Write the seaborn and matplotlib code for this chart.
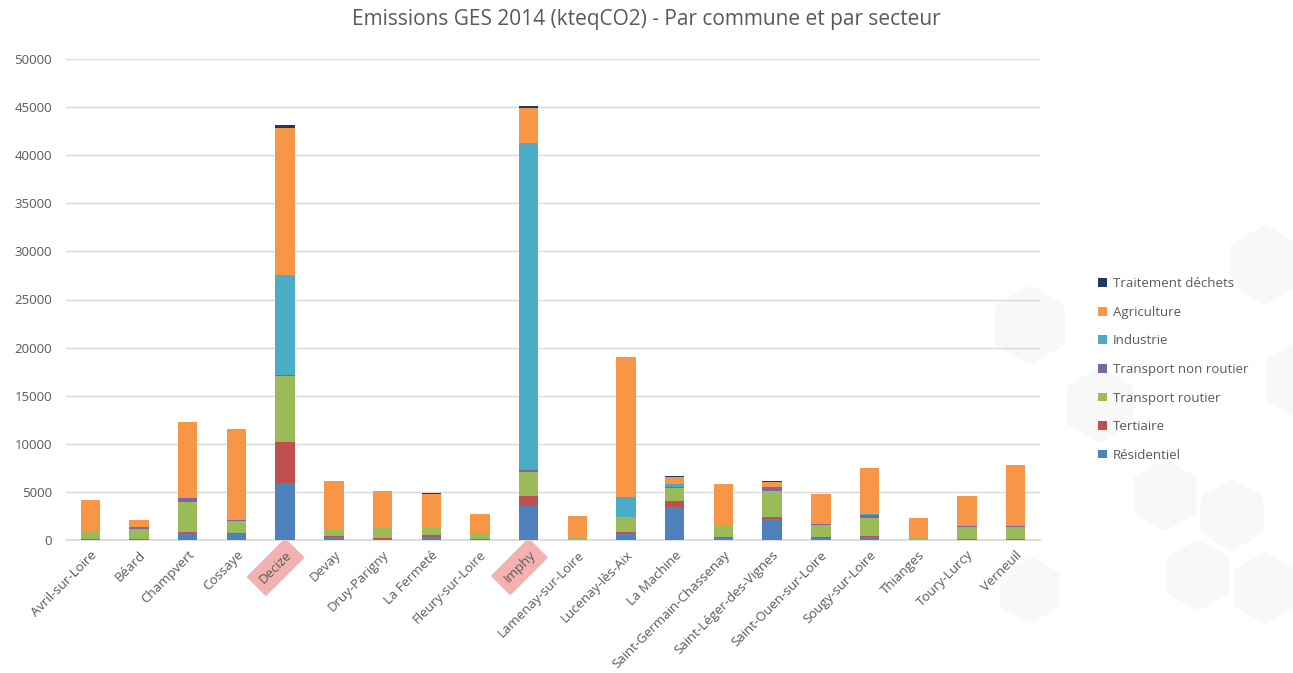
import numpy as np
import pandas as pd
import matplotlib
matplotlib.use("Agg")
import matplotlib.pyplot as plt
from matplotlib.patches import RegularPolygon
import seaborn as sns

communes = [
    "Avril-sur-Loire", "Béard", "Champvert", "Cossaye", "Decize", "Devay",
    "Druy-Parigny", "La Fermeté", "Fleury-sur-Loire", "Imphy",
    "Lamenay-sur-Loire", "Lucenay-lès-Aix", "La Machine",
    "Saint-Germain-Chassenay", "Saint-Léger-des-Vignes",
    "Saint-Ouen-sur-Loire", "Sougy-sur-Loire", "Thianges", "Toury-Lurcy",
    "Verneuil",
]

# Emissions per sector (kteqCO2), one value per commune
residentiel = [100, 80, 750, 650, 5900, 350, 150, 350, 80, 3570, 30, 750, 3470, 250, 2150, 250, 350, 50, 100, 120]
tertiaire = [30, 20, 50, 50, 4300, 30, 50, 150, 30, 1050, 0, 100, 600, 30, 280, 30, 20, 0, 0, 30]
transport_routier = [800, 1000, 3200, 1300, 6800, 650, 1100, 800, 600, 2500, 150, 1500, 1350, 1150, 2700, 1250, 1900, 200, 1300, 1200]
transport_non_routier = [30, 200, 400, 50, 150, 30, 100, 80, 50, 200, 0, 50, 50, 30, 350, 150, 280, 0, 50, 150]
industrie = [0, 0, 0, 0, 10400, 0, 0, 0, 0, 34000, 0, 2050, 400, 0, 0, 0, 150, 0, 0, 0]
agriculture = [3200, 780, 7900, 9450, 15300, 5100, 3700, 3400, 1950, 3600, 2320, 14550, 650, 4350, 550, 3050, 4800, 2050, 3100, 6250]
traitement_dechets = [0, 0, 0, 0, 300, 0, 0, 150, 0, 150, 0, 0, 150, 0, 100, 0, 0, 0, 0, 0]

secteurs = ["Résidentiel", "Tertiaire", "Transport routier", "Transport non routier",
            "Industrie", "Agriculture", "Traitement déchets"]
couleurs = ["#4f81bd", "#c0504d", "#9bbb59", "#8064a2", "#4bacc6", "#f79646", "#1f3864"]
highlighted = ["Decize", "Imphy"]

df = pd.DataFrame({
    "commune": communes,
    "Résidentiel": residentiel,
    "Tertiaire": tertiaire,
    "Transport routier": transport_routier,
    "Transport non routier": transport_non_routier,
    "Industrie": industrie,
    "Agriculture": agriculture,
    "Traitement déchets": traitement_dechets,
})
cumul = df[secteurs].cumsum(axis=1)

sns.set_theme(style="white")
plt.rcParams["font.family"] = ["Open Sans", "DejaVu Sans"]

W, H = 1293, 673
fig = plt.figure(figsize=(W / 100, H / 100), dpi=100)
fig.patch.set_facecolor("white")

# faint hexagon pattern in the background (pixel positions, converted to inches)
hexes = [(1265, 265, 40), (1030, 325, 40), (1100, 405, 38), (1165, 495, 36),
         (1232, 515, 36), (1198, 575, 36), (1265, 588, 36), (1030, 590, 34),
         (1300, 380, 40)]
for hx, hy, hr in hexes:
    fig.patches.append(RegularPolygon((hx / 100, (H - hy) / 100), numVertices=6,
                                      radius=hr / 100, orientation=0,
                                      transform=fig.dpi_scale_trans,
                                      facecolor="#f8f8f8", edgecolor="none",
                                      zorder=-5))

ax = fig.add_axes([66 / W, 1 - 540 / H, (1040 - 66) / W, (540 - 59) / H])
ax.patch.set_alpha(0)

# stacked bars: draw cumulative totals from the top layer down
for secteur, couleur in reversed(list(zip(secteurs, couleurs))):
    sns.barplot(x=df["commune"], y=cumul[secteur], order=communes, color=couleur,
                width=0.4, label=secteur, ax=ax, saturation=1, linewidth=0,
                zorder=3)

ax.set_ylim(0, 50000)
ax.set_xlim(-0.5, len(communes) - 0.5)
ax.set_yticks(np.arange(0, 50001, 5000))
ax.yaxis.grid(True, color="#d9d9d9", linewidth=1, zorder=0)
ax.set_axisbelow(True)
for s in ["top", "right", "left"]:
    ax.spines[s].set_visible(False)
ax.spines["bottom"].set_color("#d9d9d9")
ax.set_xlabel("")
ax.set_ylabel("")
ax.tick_params(axis="y", length=0, labelsize=9.5, labelcolor="#595959", pad=10)
ax.tick_params(axis="x", length=0, labelsize=9.5, labelcolor="#595959", pad=6)

ax.set_xticks(range(len(communes)))
ax.set_xticklabels(communes, rotation=45, ha="right", rotation_mode="anchor")
for lbl in ax.get_xticklabels():
    if lbl.get_text() in highlighted:
        lbl.set_bbox(dict(boxstyle="square,pad=0.55", facecolor="#f2a5a5",
                          edgecolor="none", alpha=0.85))

fig.text(0.5, 1 - 20 / H, "Emissions GES 2014 (kteqCO2) - Par commune et par secteur",
         ha="center", va="center", fontsize=15, color="#595959")

leg = ax.legend(loc="upper left", bbox_to_anchor=(1093 / W, 1 - 272 / H),
                bbox_transform=fig.transFigure, frameon=False, fontsize=9.5,
                handlelength=0.65, handleheight=0.65, handletextpad=0.45,
                labelspacing=1.18, borderaxespad=0)
for t in leg.get_texts():
    t.set_color("#595959")

fig.savefig("out.png", dpi=100, facecolor="white")
